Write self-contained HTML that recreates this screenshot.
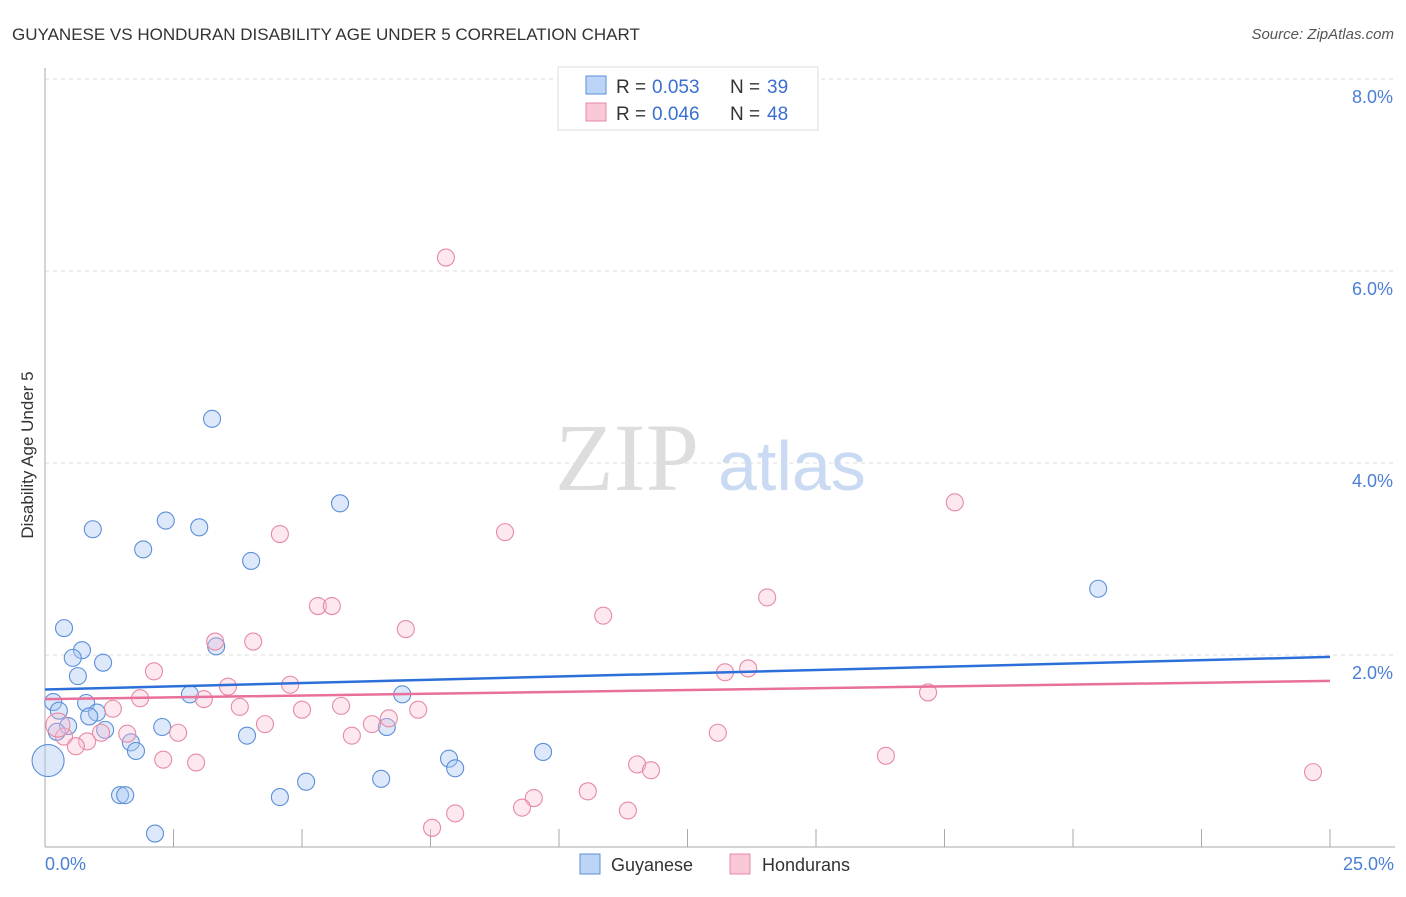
<!DOCTYPE html>
<html><head><meta charset="utf-8"><style>
body{margin:0;background:#fff;font-family:"Liberation Sans",sans-serif}
</style></head><body>
<svg width="1406" height="892" viewBox="0 0 1406 892" xmlns="http://www.w3.org/2000/svg">
<text x="12" y="40" font-size="17" fill="#333">GUYANESE VS HONDURAN DISABILITY AGE UNDER 5 CORRELATION CHART</text>
<text x="1394" y="39" font-size="15" fill="#555" text-anchor="end" font-style="italic">Source: ZipAtlas.com</text>
<g id="grid"></g>
<text x="555" y="490" font-size="96" fill="#ddd" font-family="Liberation Serif,serif">ZIP</text>
<text x="718" y="490" font-size="70" fill="#c9daf2">atlas</text>
<line x1="45" y1="68" x2="45" y2="847" stroke="#aaa"/>
<line x1="45" y1="847" x2="1395" y2="847" stroke="#aaa"/>
<g id="ticks"></g>
<text x="33" y="455" font-size="17" fill="#333" transform="rotate(-90 33 455)" text-anchor="middle">Disability Age Under 5</text>
<text x="45" y="870" font-size="18" fill="#4a7fd6">0.0%</text>
<text x="1394" y="870" font-size="18" fill="#4a7fd6" text-anchor="end">25.0%</text>
<g id="pts"></g>
<g id="lines"></g>
<g>
<rect x="558" y="67" width="260" height="63" fill="#fff" stroke="#ddd"/>
<rect x="586" y="76" width="20" height="18" fill="#bcd4f6" stroke="#5b8fd8"/>
<text x="616" y="93" font-size="19" fill="#333">R =</text>
<text x="652" y="93" font-size="19" fill="#3a6fd0">0.053</text>
<text x="730" y="93" font-size="19" fill="#333">N =</text>
<text x="767" y="93" font-size="19" fill="#3a6fd0">39</text>
<rect x="586" y="103" width="20" height="18" fill="#f9c8d6" stroke="#e68aa6"/>
<text x="616" y="120" font-size="19" fill="#333">R =</text>
<text x="652" y="120" font-size="19" fill="#3a6fd0">0.046</text>
<text x="730" y="120" font-size="19" fill="#333">N =</text>
<text x="767" y="120" font-size="19" fill="#3a6fd0">48</text>
</g>
<g>
<rect x="580" y="854" width="20" height="20" fill="#bcd4f6" stroke="#5b8fd8"/>
<text x="611" y="871" font-size="18" fill="#333">Guyanese</text>
<rect x="730" y="854" width="20" height="20" fill="#f9c8d6" stroke="#e68aa6"/>
<text x="762" y="871" font-size="18" fill="#333">Hondurans</text>
</g>
</svg>
<script>
const yTicks=[2,4,6,8];
const xTicks=[2.5,5,7.5,10,12.5,15,17.5,20,22.5,25];
const blueX=[3.25,5.74,0.93,2.35,3.00,1.91,4.01,20.49,0.37,0.72,0.54,1.13,0.64,3.33,0.16,0.80,2.82,6.95,0.27,1.01,0.86,0.45,2.28,1.17,0.23,1.67,1.77,3.93,6.65,9.69,7.86,7.98,5.08,6.54,1.46,1.56,4.57,2.14,0.06];
const blueY=[4.46,3.58,3.31,3.40,3.33,3.10,2.98,2.69,2.28,2.05,1.97,1.92,1.78,2.09,1.51,1.50,1.59,1.59,1.42,1.40,1.36,1.26,1.25,1.22,1.20,1.09,1.00,1.16,1.25,0.99,0.92,0.82,0.68,0.71,0.54,0.54,0.52,0.14,0.90];
const pinkX=[7.80,17.70,4.57,8.95,14.05,5.31,5.58,7.02,10.86,3.31,4.05,2.12,13.23,13.68,4.77,3.56,1.85,3.09,17.18,1.32,3.79,5.00,5.76,7.26,2.59,4.28,6.36,6.69,5.97,1.60,1.09,13.09,0.37,0.82,0.60,0.25,2.30,2.94,16.36,11.52,11.79,10.56,9.51,9.28,7.98,11.34,7.53,24.67];
const pinkY=[6.14,3.59,3.26,3.28,2.60,2.51,2.51,2.27,2.41,2.14,2.14,1.83,1.82,1.86,1.69,1.67,1.55,1.54,1.61,1.44,1.46,1.43,1.47,1.43,1.19,1.28,1.28,1.34,1.16,1.18,1.19,1.19,1.15,1.10,1.05,1.27,0.91,0.88,0.95,0.86,0.80,0.58,0.51,0.41,0.35,0.38,0.20,0.78];
const blueTrend=[1.64,1.98];
const pinkTrend=[1.54,1.73];
const NS="http://www.w3.org/2000/svg";
const sx=v=>45+v*51.4, sy=v=>847-v*96;
function mk(t,a,p){const e=document.createElementNS(NS,t);for(const k in a)e.setAttribute(k,a[k]);p.appendChild(e);return e;}
const grid=document.getElementById('grid');
yTicks.forEach(v=>{
 const l=mk('line',{x1:45,x2:1395,y1:sy(v),y2:sy(v),stroke:'#ddd','stroke-dasharray':'4,4'},grid);
 
 
 const t=mk('text',{x:1393,y:sy(v)+24,'font-size':18,fill:'#4a7fd6','text-anchor':'end'},grid);
 t.textContent=v.toFixed(1)+'%';
 
 
});
const tk=document.getElementById('ticks');
xTicks.forEach(v=>{
 const l=mk('line',{x1:sx(v),x2:sx(v),y1:829,y2:847,stroke:'#aaa'},tk);
 
 
});
const pts=document.getElementById('pts');
blueX.forEach((x,i)=>{
 const c=mk('circle',{cx:sx(x),cy:sy(blueY[i]),r:i==38?16:8.5,fill:'rgba(170,200,245,0.4)',stroke:'#5b8fd8','stroke-width':1.1},pts);
 
 
});
pinkX.forEach((x,i)=>{
 const c=mk('circle',{cx:sx(x),cy:sy(pinkY[i]),r:i==35?12:8.5,fill:'rgba(248,190,210,0.35)',stroke:'#e68aa6','stroke-width':1.1},pts);
 
 
});
const ln=document.getElementById('lines');
const bl=mk('line',{x1:sx(0),x2:sx(25),y1:sy(blueTrend[0]),y2:sy(blueTrend[1]),stroke:'#2d6fd8','stroke-width':2.5},ln);


const pl=mk('line',{x1:sx(0),x2:sx(25),y1:sy(pinkTrend[0]),y2:sy(pinkTrend[1]),stroke:'#e8709a','stroke-width':2.5},ln);


</script>
</body></html>
